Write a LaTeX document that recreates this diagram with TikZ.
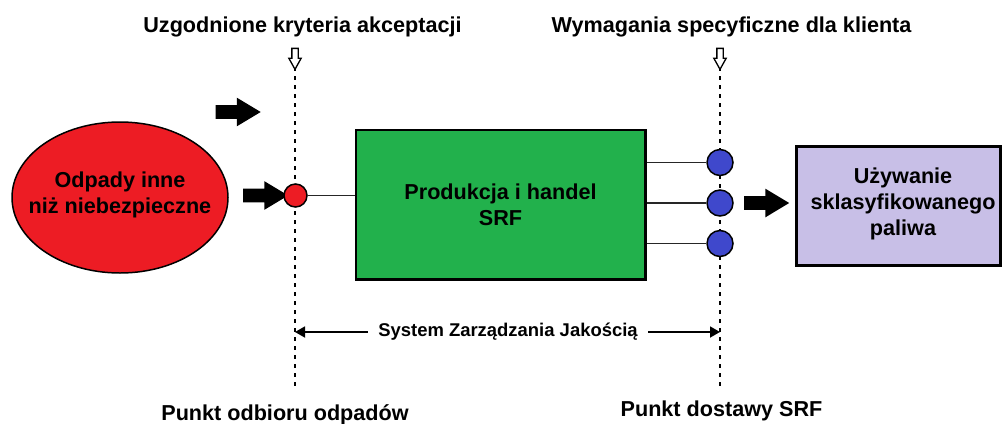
\documentclass[tikz,border=0pt]{standalone}
\usepackage{fontspec}
\setmainfont{Liberation Sans}
\usetikzlibrary{shapes.geometric,shapes.arrows,arrows.meta}

\definecolor{wastered}{HTML}{ED1C24}
\definecolor{prodgreen}{HTML}{22B14C}
\definecolor{fuellilac}{HTML}{C8BFE7}
\definecolor{pointblue}{HTML}{3F48CC}
\newcommand{\pixu}{0.02cm}

\tikzset{
  basefont/.style={font=\fontsize{12.3}{14.6}\selectfont\bfseries},
  heading/.style={basefont, anchor=base, inner sep=0pt},
  wasteshape/.style={ellipse, draw, line width=0.85pt, fill=wastered,
    minimum width=216*\pixu, minimum height=151*\pixu, inner sep=0pt},
  boxtext/.style={basefont, align=center, inner sep=0pt},
  procbox/.style={rectangle, draw, line width=1.7pt, fill=prodgreen,
    minimum width=289*\pixu, minimum height=149.5*\pixu, inner sep=0pt,
    basefont, align=center},
  usebox/.style={rectangle, draw, line width=1.7pt, fill=fuellilac,
    minimum width=203.5*\pixu, minimum height=119*\pixu, inner sep=0pt},
  pickup/.style={circle, draw, line width=0.85pt, fill=wastered,
    minimum size=23*\pixu, inner sep=0pt},
  delivery/.style={circle, draw, line width=0.85pt, fill=pointblue,
    minimum size=26*\pixu, inner sep=0pt},
  boundary/.style={line width=0.85pt, dash pattern=on 4*\pixu off 5*\pixu},
  flowarrow/.style={single arrow, fill=black, draw=none,
    minimum height=45*\pixu, inner sep=6.5*\pixu,
    single arrow head extend=7.5*\pixu, single arrow tip angle=62},
  inputarrow/.style={single arrow, draw, fill=white, line width=0.75pt,
    shape border rotate=270, minimum height=21*\pixu, inner sep=2.5*\pixu,
    single arrow head extend=3*\pixu, single arrow tip angle=58},
  link/.style={line width=0.85pt, draw=black!85},
  spanlabel/.style={font=\fontsize{10.5}{12}\selectfont\bfseries,
    inner xsep=10*\pixu, inner ysep=0pt},
  span/.style={line width=1pt, -{Triangle[length=10*\pixu, width=11*\pixu]}}
}

\begin{document}
\begin{tikzpicture}[x=0.02cm, y=-0.02cm]
\useasboundingbox (0,0) rectangle (1003,423);

% boundary lines of the two control points
\coordinate (critTop) at (295,67);
\coordinate (critBot) at (295,390);
\coordinate (specTop) at (720,67);
\coordinate (specBot) at (720,390);
\draw[boundary] (critTop) -- (critBot);
\draw[boundary] (specTop) -- (specBot);

% headings above the boundaries
\node[heading] (crit) at (302.5,32) {Uzgodnione kryteria akceptacji};
\node[heading] (spec) at (731.5,32) {Wymagania specyficzne dla klienta};
\node[inputarrow] (critIn) at (295,56) {};
\node[inputarrow] (specIn) at (720,56) {};

% waste input
\node[wasteshape] (waste) at (120,197.5) {};
\node[boxtext] (wastetext) at (120,195) {Odpady inne\\niż niebezpieczne};

% flow arrows
\node[flowarrow] (flowTop) at (232.5,112) {};
\node[flowarrow] (flowIn) at (260,195.5) {};
\node[flowarrow] (flowOut) at (761,203) {};

% production block
\node[procbox] (proc) at (500.5,204.75) {Produkcja i handel\\SRF};

% pickup point and delivery points
\node[pickup] (pick) at (295.5,195.5) {};
\node[delivery] (del1) at (720,162.5) {};
\node[delivery] (del2) at (720,203) {};
\node[delivery] (del3) at (720,243.5) {};
\draw[link] (pick.east) -- (proc.west |- pick);
\draw[link] (proc.east |- del1) -- (del1.west);
\draw[link] (proc.east |- del2) -- (del2.west);
\draw[link] (proc.east |- del3) -- (del3.west);

% use of the classified fuel
\node[usebox] (use) at (898.25,206) {};
\node[boxtext] (usetext) at (903,204) {Używanie\\sklasyfikowanego\\paliwa};

% quality management span
\node[spanlabel] (qms) at (508,332) {System Zarządzania Jakością};
\coordinate (qmsL) at (295,332);
\coordinate (qmsR) at (720,332);
\draw[span] (qms.west) -- (qmsL);
\draw[span] (qms.east) -- (qmsR);

% labels below the boundaries
\node[heading] (pickLabel) at (285,420.5) {Punkt odbioru odpadów};
\node[heading] (delLabel) at (721.5,416.5) {Punkt dostawy SRF};
\end{tikzpicture}
\end{document}
